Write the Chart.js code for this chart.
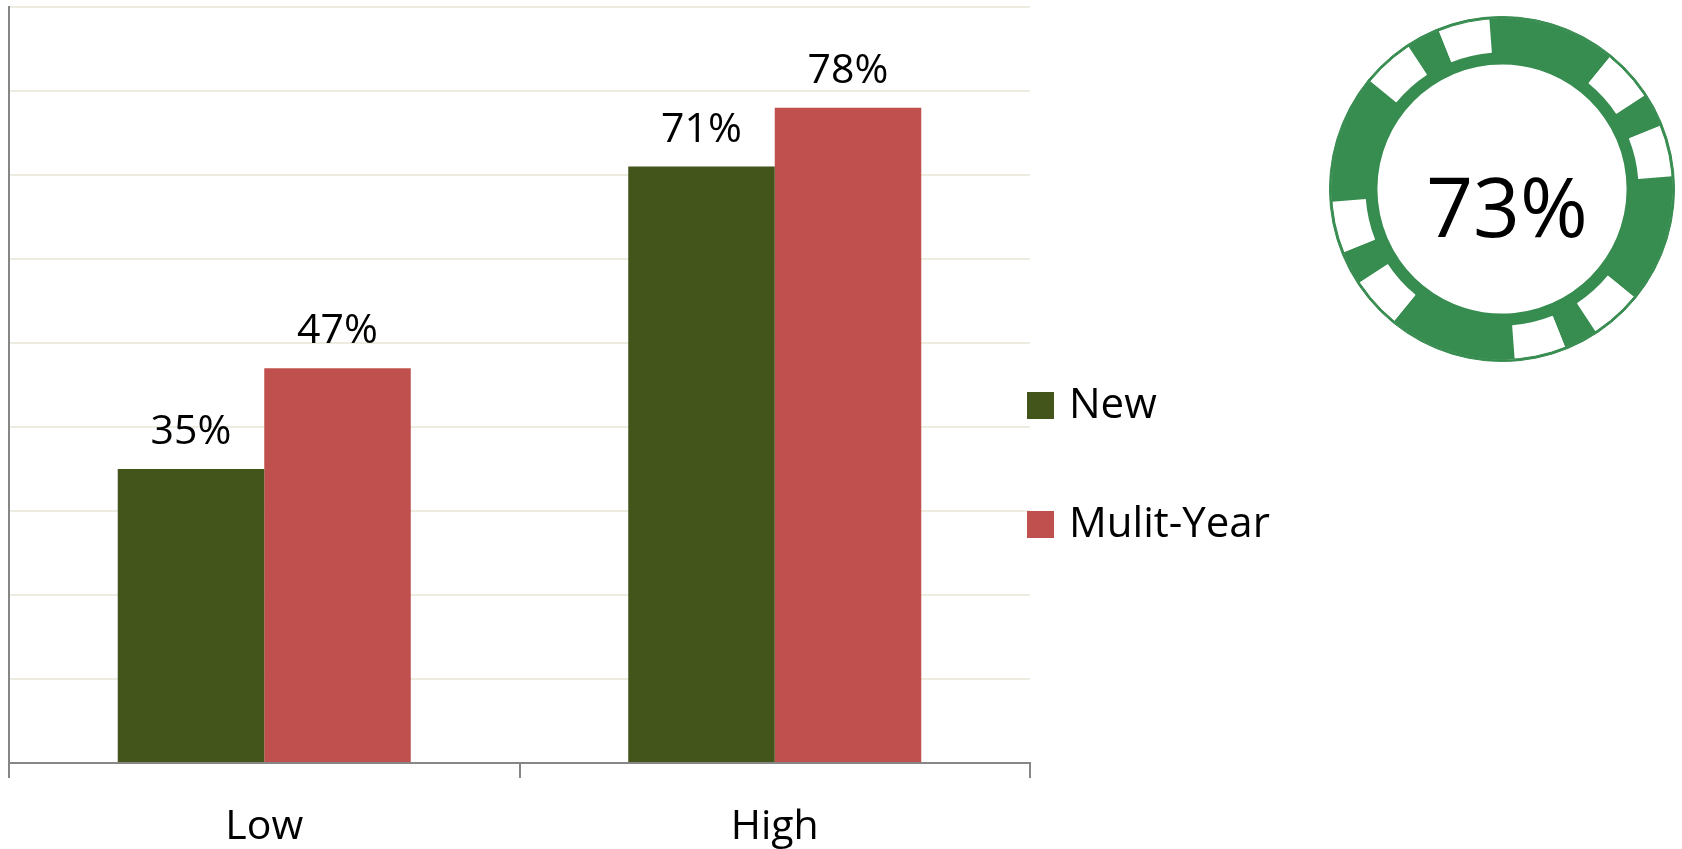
<!DOCTYPE html>
<html>
<head>
<meta charset="utf-8">
<script src="https://cdn.jsdelivr.net/npm/chart.js@4.4.0/dist/chart.umd.min.js"></script>
<style>
  html, body { margin: 0; padding: 0; background: #fff; }
  #wrap { position: relative; width: 1682px; height: 849px; overflow: hidden; }
  #bars { position: absolute; left: 0; top: 0; }
  #chip { position: absolute; left: 1329px; top: 16px; }
</style>
</head>
<body>
<div id="wrap">
  <canvas id="bars" width="1682" height="849"></canvas>
  <canvas id="chip" width="346" height="346"></canvas>
</div>
<script>
const categories = ['Low', 'High'];
const seriesNames = ['New', 'Mulit-Year'];
const newValues = [35, 71];
const multiYearValues = [47, 78];
const seriesColors = ['#43551A', '#C0504D'];
const yMin = 0;
const yMax = 90;
const yStep = 10;

// chip in the corner: the big number and the ring pieces (degrees), notch / band
const chipValue = '73%';
const chipSegments = [17.5, 11.5, 17.5, 43.5, 17.5, 11.5, 17.5, 43.5, 17.5, 11.5, 17.5, 43.5, 17.5, 11.5, 17.5, 43.5];
const chipGreen = '#378C50';
const chipColors = chipSegments.map((s, i) => (i % 2 === 0 ? '#FFFFFF' : chipGreen));

const FONT = "'Open Sans', sans-serif";
Chart.defaults.font.family = FONT;
Chart.defaults.color = '#000';

const valueLabels = {
  id: 'valueLabels',
  afterDatasetsDraw(chart) {
    const ctx = chart.ctx;
    ctx.save();
    ctx.font = '41px ' + FONT;
    ctx.fillStyle = '#000';
    ctx.textAlign = 'center';
    ctx.textBaseline = 'alphabetic';
    chart.data.datasets.forEach((ds, i) => {
      chart.getDatasetMeta(i).data.forEach((bar, j) => {
        ctx.fillText(ds.data[j] + '%', bar.x, bar.y - 25);
      });
    });
    ctx.restore();
  }
};

const sideLegend = {
  id: 'sideLegend',
  afterDraw(chart) {
    const ctx = chart.ctx;
    const left = chart.chartArea.right - 3;
    ctx.save();
    ctx.font = '42px ' + FONT;
    ctx.textAlign = 'left';
    ctx.textBaseline = 'alphabetic';
    chart.data.datasets.forEach((ds, i) => {
      const top = 392 + i * 119;
      ctx.fillStyle = ds.backgroundColor;
      ctx.fillRect(left, top, 27, 27);
      ctx.fillStyle = '#000';
      ctx.fillText(ds.label, left + 42, top + 26);
    });
    ctx.restore();
  }
};

const chipText = {
  id: 'chipText',
  afterDraw(chart) {
    const ctx = chart.ctx;
    ctx.save();
    ctx.font = '82px ' + FONT;
    ctx.fillStyle = '#000';
    ctx.textAlign = 'center';
    ctx.textBaseline = 'alphabetic';
    ctx.fillText(chipValue, chart.width / 2 + 5, chart.height / 2 + 48);
    ctx.restore();
  }
};

new Chart(document.getElementById('bars'), {
  type: 'bar',
  data: {
    labels: categories,
    datasets: [
      {
        label: seriesNames[0],
        data: newValues,
        backgroundColor: seriesColors[0],
        borderWidth: 0,
        categoryPercentage: 0.574,
        barPercentage: 1,
      },
      {
        label: seriesNames[1],
        data: multiYearValues,
        backgroundColor: seriesColors[1],
        borderWidth: 0,
        categoryPercentage: 0.574,
        barPercentage: 1,
      },
    ]
  },
  options: {
    responsive: false,
    animation: false,
    layout: {
      padding: { left: 9, right: 652, top: 7, bottom: -28 }
    },
    plugins: {
      legend: { display: false },
      tooltip: { enabled: false },
    },
    scales: {
      x: {
        grid: {
          offset: true,
          drawOnChartArea: false,
          drawTicks: true,
          tickLength: 15,
          color: '#868686',
          lineWidth: 2,
        },
        border: { color: '#868686', width: 2 },
        ticks: {
          color: '#000',
          padding: 29,
          font: { size: 41, lineHeight: 1 },
        },
      },
      y: {
        min: yMin,
        max: yMax,
        ticks: { stepSize: yStep, display: false },
        grid: {
          color: '#EEECE1',
          lineWidth: 2,
          drawTicks: false,
        },
        border: { color: '#868686', width: 2 },
      },
    },
  },
  plugins: [valueLabels, sideLegend],
});

new Chart(document.getElementById('chip'), {
  type: 'doughnut',
  data: {
    datasets: [
      { data: [360], backgroundColor: [chipGreen], borderColor: chipGreen, borderWidth: 1, weight: 2 },
      { data: chipSegments, backgroundColor: chipColors, borderWidth: 0, weight: 34 },
      { data: [360], backgroundColor: [chipGreen], borderColor: chipGreen, borderWidth: 2, weight: 11 },
    ]
  },
  options: {
    responsive: false,
    animation: false,
    cutout: '72.8%',
    rotation: 309.25,
    plugins: {
      legend: { display: false },
      tooltip: { enabled: false },
    },
  },
  plugins: [chipText],
});
</script>
</body>
</html>
